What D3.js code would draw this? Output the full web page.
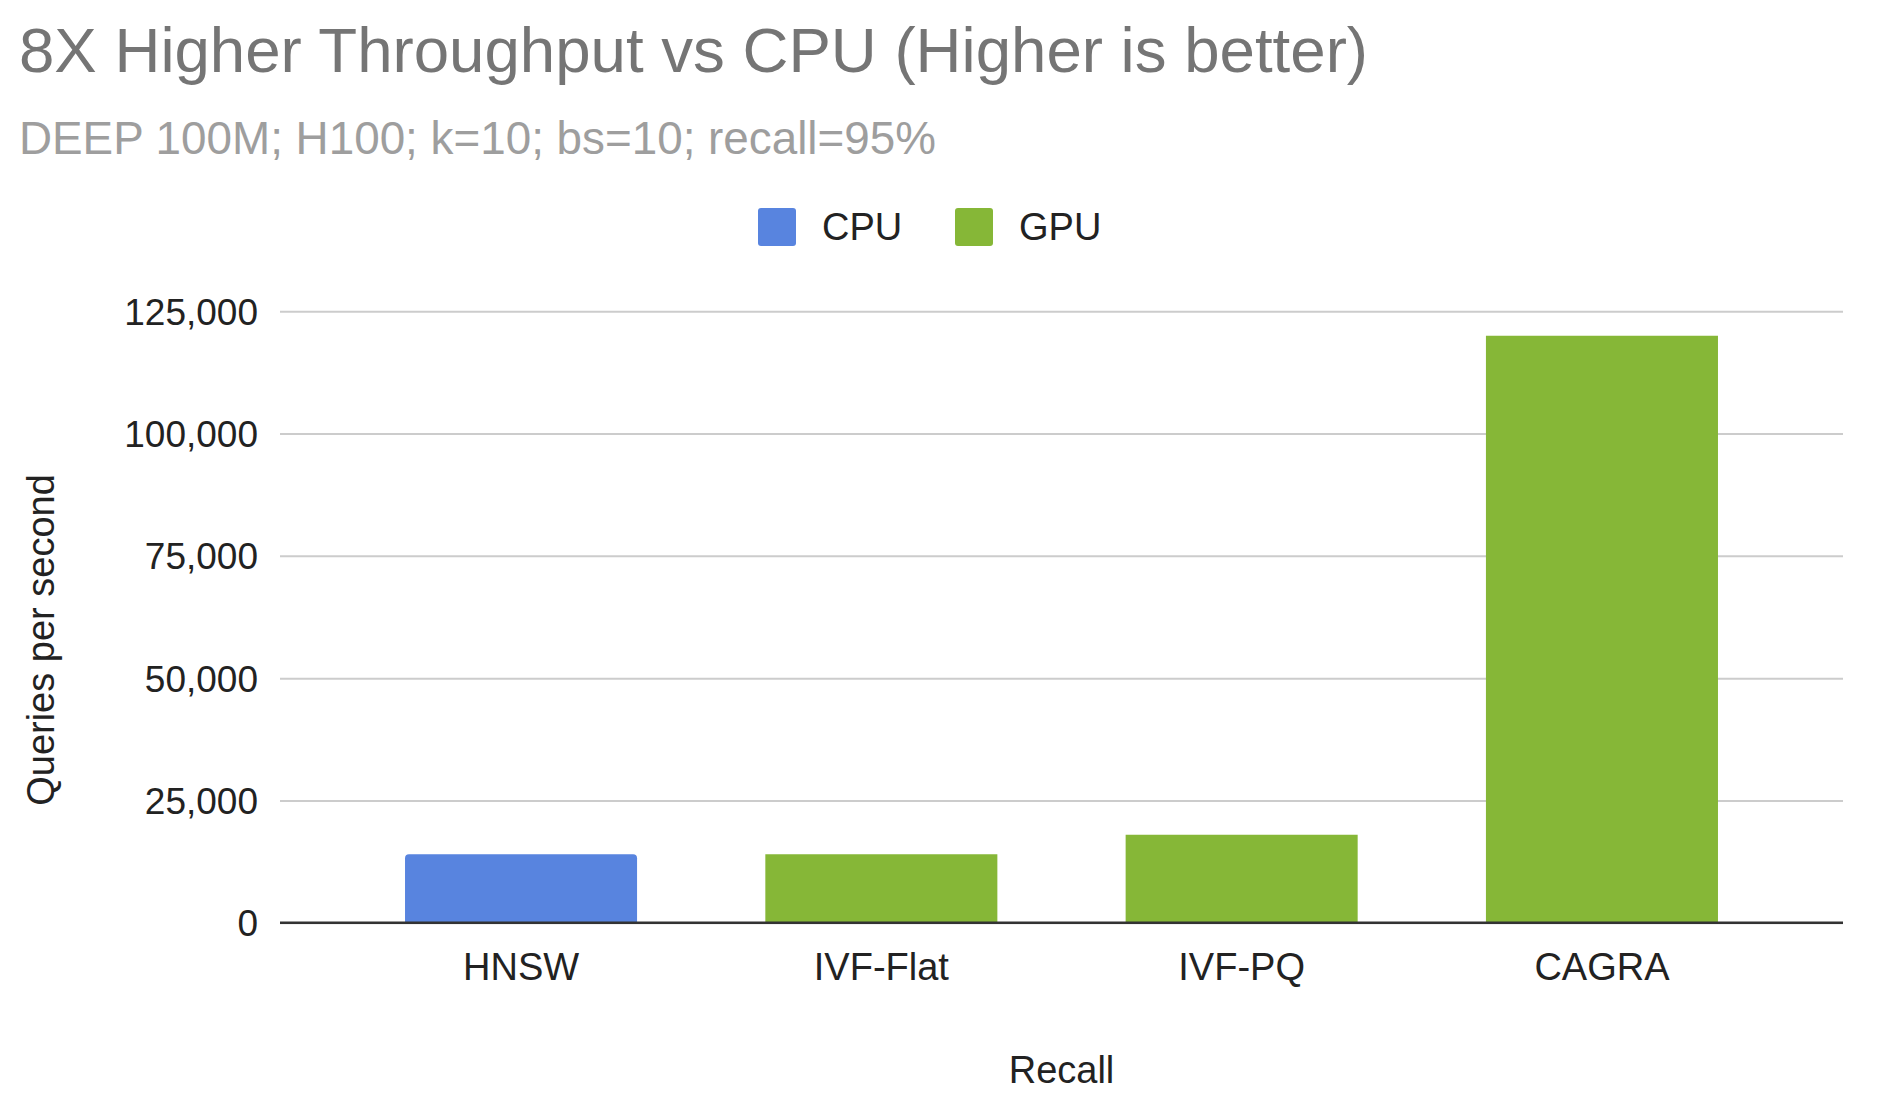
<!DOCTYPE html>
<html>
<head>
<meta charset="utf-8">
<script src="https://cdn.jsdelivr.net/npm/d3@7"></script>
<style>
  html, body { margin: 0; padding: 0; background: #ffffff; }
  svg { display: block; font-family: "Liberation Sans", Arial, sans-serif; }
</style>
</head>
<body>
<svg id="chart" width="1884" height="1094"></svg>
<script>
// ---- data ----
const titleText = "8X Higher Throughput vs CPU (Higher is better)";
const subtitleText = "DEEP 100M; H100; k=10; bs=10; recall=95%";
const categories = ["HNSW", "IVF-Flat", "IVF-PQ", "CAGRA"];
const seriesNames = ["CPU", "GPU"];
const barSeries = ["CPU", "GPU", "GPU", "GPU"];
const barValues = [14000, 14000, 18000, 120000];
const yTicks = [0, 25000, 50000, 75000, 100000, 125000];
const xAxisTitle = "Recall";
const yAxisTitle = "Queries per second";

// ---- styles ----
const colors = { CPU: "#5884df", GPU: "#86b737" };
const W = 1884, H = 1094;
const plot = { left: 280, right: 1843, top: 311.2, bottom: 922.8 };

const svg = d3.select("#chart");
svg.append("rect").attr("width", W).attr("height", H).attr("fill", "#fff");

const x = d3.scaleBand()
  .domain(categories)
  .range([plot.left, plot.right])
  .paddingInner(0.356)
  .paddingOuter(0.347);

const y = d3.scaleLinear()
  .domain([0, 125000])
  .range([plot.bottom, plot.top]);

const color = d3.scaleOrdinal().domain(seriesNames).range(seriesNames.map(s => colors[s]));

// title & subtitle
svg.append("text").attr("x", 19).attr("y", 72)
  .attr("font-size", 63.6).attr("fill", "#757575").text(titleText);
svg.append("text").attr("x", 19).attr("y", 154)
  .attr("font-size", 45.8).attr("fill", "#9e9e9e").text(subtitleText);

// gridlines + y tick labels via axis
const yAxis = d3.axisLeft(y)
  .tickValues(yTicks)
  .tickSize(-(plot.right - plot.left))
  .tickPadding(22)
  .tickFormat(d3.format(","));
const gy = svg.append("g").attr("transform", `translate(${plot.left},0)`).call(yAxis);
gy.select(".domain").remove();
gy.selectAll(".tick line").attr("stroke", "#cccccc").attr("stroke-width", 2);
gy.selectAll(".tick text")
  .attr("font-size", 37).attr("fill", "#222").attr("font-family", "Liberation Sans, Arial, sans-serif")
  .attr("dy", "0.35em");

// bars
const data = categories.map((c, i) => ({ cat: c, series: barSeries[i], value: barValues[i] }));
function roundedTopBar(x0, y0, w, h, r) {
  r = Math.min(r, w / 2, h);
  return `M${x0},${y0 + h} V${y0 + r} Q${x0},${y0} ${x0 + r},${y0} H${x0 + w - r} Q${x0 + w},${y0} ${x0 + w},${y0 + r} V${y0 + h} Z`;
}
svg.append("g").selectAll("path").data(data).join("path")
  .attr("d", d => roundedTopBar(x(d.cat), y(d.value), x.bandwidth(), y(0) - y(d.value), d.series === "CPU" ? 4 : 0))
  .attr("fill", d => color(d.series));

// x axis baseline + labels
const xAxis = d3.axisBottom(x).tickSize(0).tickPadding(30);
const gx = svg.append("g").attr("transform", `translate(0,${plot.bottom})`).call(xAxis);
gx.select(".domain").remove();
gx.selectAll(".tick text")
  .attr("font-size", 38).attr("fill", "#222").attr("font-family", "Liberation Sans, Arial, sans-serif")
  .attr("dy", "0.71em");
svg.append("line")
  .attr("x1", plot.left).attr("x2", plot.right)
  .attr("y1", y(0)).attr("y2", y(0))
  .attr("stroke", "#333").attr("stroke-width", 2.5);

// axis titles
svg.append("text").attr("x", (plot.left + plot.right) / 2).attr("y", 1083)
  .attr("text-anchor", "middle").attr("font-size", 38).attr("fill", "#222").text(xAxisTitle);
svg.append("text")
  .attr("transform", `translate(54,640) rotate(-90)`)
  .attr("text-anchor", "middle").attr("font-size", 38).attr("fill", "#222").text(yAxisTitle);

// legend
const legendX = [758, 955];
const lg = svg.append("g").selectAll("g").data(seriesNames).join("g")
  .attr("transform", (d, i) => `translate(${legendX[i]},208)`);
lg.append("rect").attr("width", 38).attr("height", 38).attr("rx", 3)
  .attr("fill", d => color(d));
lg.append("text").attr("x", 64).attr("y", 32)
  .attr("font-size", 38).attr("fill", "#222").text(d => d);
</script>
</body>
</html>
